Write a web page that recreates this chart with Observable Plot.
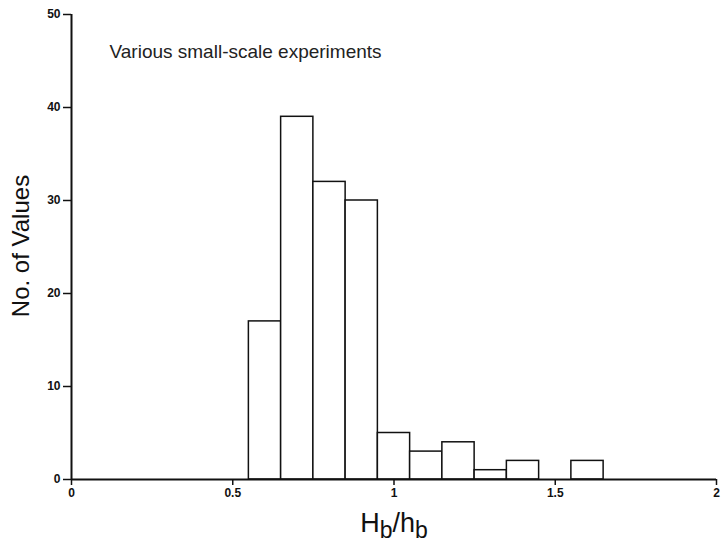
<!DOCTYPE html>
<html>
<head>
<meta charset="utf-8">
<script src="https://cdn.jsdelivr.net/npm/d3@7"></script>
<script src="https://cdn.jsdelivr.net/npm/@observablehq/plot@0.6"></script>
<style>
  html, body { margin: 0; padding: 0; background: #fff; }
  #chart { width: 721px; height: 546px; }
</style>
</head>
<body>
<div id="chart"></div>
<script>
// Histogram bins of H_b/h_b and counts
const binLo  = [0.55, 0.65, 0.75, 0.85, 0.95, 1.05, 1.15, 1.25, 1.35, 1.45, 1.55];
const binHi  = [0.65, 0.75, 0.85, 0.95, 1.05, 1.15, 1.25, 1.35, 1.45, 1.55, 1.65];
const counts = [17, 39, 32, 30, 5, 3, 4, 1, 2, 0, 2];
const xTicks = [0, 0.5, 1, 1.5, 2];
const xTickLabels = ["0", "0.5", "1", "1.5", "2"];
const yTicks = [0, 10, 20, 30, 40, 50];
const titleText = "Various small-scale experiments";
const yLabel = "No. of Values";

const bins = binLo.map((lo, i) => ({lo, hi: binHi[i], n: counts[i]})).filter(d => d.n > 0);

const plot = Plot.plot({
  width: 721,
  height: 546,
  marginTop: 14,
  marginLeft: 71,
  marginRight: 5,
  marginBottom: 67,
  style: {background: "#fff", color: "#111", fontFamily: "'Liberation Sans', Arial, sans-serif"},
  x: {domain: [0, 2]},
  y: {domain: [0, 50]},
  marks: [
    Plot.rect(bins, {x1: "lo", x2: "hi", y1: 0, y2: "n", fill: "white", stroke: "#111", strokeWidth: 1.5}),
    Plot.ruleY([0], {stroke: "#111", strokeWidth: 2}),
    Plot.ruleX([0], {stroke: "#111", strokeWidth: 2}),
    Plot.axisX({ticks: xTicks, tickFormat: (d) => xTickLabels[xTicks.indexOf(d)], tickSize: 6, tickPadding: 3, fontSize: 12, fontWeight: "bold", label: null, stroke: "#111", strokeWidth: 1.5}),
    Plot.axisY({ticks: yTicks, tickSize: 8, tickPadding: 3, fontSize: 12, fontWeight: "bold", label: null, stroke: "#111", strokeWidth: 1.5}),
    Plot.text([titleText], {frameAnchor: "top-left", dx: 38, dy: 30, fontSize: 19, fill: "#222", textAnchor: "start"})
  ]
});

const svg = d3.select(plot);
const ff = "'Liberation Sans', Arial, sans-serif";

// y-axis label
svg.append("text")
  .attr("transform", "translate(29,246) rotate(-90)")
  .attr("text-anchor", "middle")
  .attr("font-size", 24)
  .attr("fill", "#111")
  .attr("font-family", ff)
  .text(yLabel);

// x-axis label with subscripts
const lab = svg.append("text")
  .attr("x", 394)
  .attr("y", 532)
  .attr("text-anchor", "middle")
  .attr("font-size", 27)
  .attr("fill", "#111")
  .attr("font-family", ff);
lab.append("tspan").text("H");
lab.append("tspan").attr("dy", 6).attr("font-size", 23).text("b");
lab.append("tspan").attr("dy", -6).text("/h");
lab.append("tspan").attr("dy", 6).attr("font-size", 23).text("b");

document.getElementById("chart").appendChild(plot);
</script>
</body>
</html>
